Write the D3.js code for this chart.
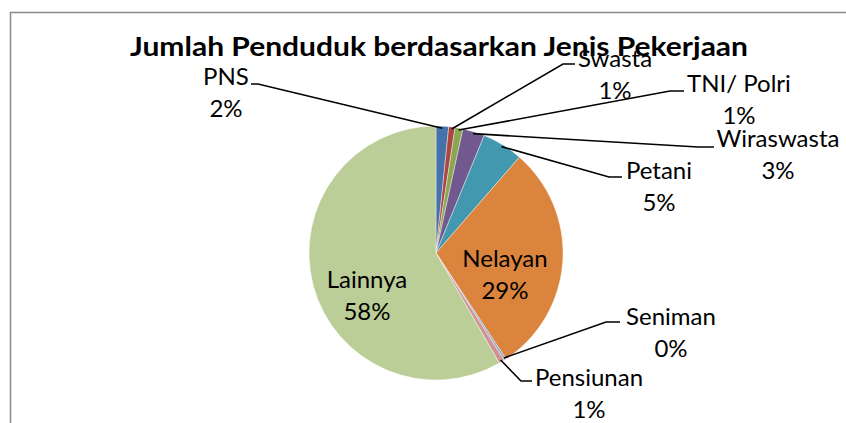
<!DOCTYPE html>
<html>
<head>
<meta charset="utf-8">
<script src="https://cdn.jsdelivr.net/npm/d3@7"></script>
<style>
  body { margin: 0; background: #fff; }
  text { font-family: Lato, "Open Sans", sans-serif; }
</style>
</head>
<body>
<div id="chart"></div>
<script>
// data
var categories = ["PNS", "Swasta", "TNI/ Polri", "Wiraswasta", "Petani", "Nelayan", "Seniman", "Pensiunan", "Lainnya"];
var shares = [1.6, 0.8, 1.0, 2.8, 5.2, 29.3, 0.3, 0.7, 58.3];
var sliceColors = ["#4572a8", "#aa4643", "#8aa650", "#71588f", "#4198af", "#db843d", "#93a9cf", "#d19392", "#bbce97"];

// label layout: text centre x, first baseline y, elbow point, end of leader
var labelPos = {
    "PNS":        { x: 226, y: 85,  elbow: [258, 84],  end: [251, 84] },
    "Swasta":     { x: 615, y: 67,  elbow: [563, 64],  end: [575, 64] },
    "TNI/ Polri": { x: 739, y: 92,  elbow: [670, 91],  end: [684, 91] },
    "Wiraswasta": { x: 778, y: 147, elbow: [698, 147], end: [714, 147] },
    "Petani":     { x: 659, y: 179, elbow: [609, 177], end: [622, 177] },
    "Nelayan":    { x: 505, y: 267 },
    "Seniman":    { x: 671, y: 325, elbow: [606, 322], end: [620, 322] },
    "Pensiunan":  { x: 589, y: 386, elbow: [521, 381], end: [532, 381] },
    "Lainnya":    { x: 367, y: 288 }
};

var width = 846, height = 423;
var cx = 436, cy = 253, radius = 127;

var svg = d3.select("#chart").append("svg")
    .attr("width", width)
    .attr("height", height);

// chart area border
svg.append("rect")
    .attr("x", 10.5)
    .attr("y", 12.5)
    .attr("width", 900)
    .attr("height", 500)
    .attr("fill", "none")
    .attr("stroke", "#8a8a8a")
    .attr("stroke-width", 1.5);

var pie = d3.pie().sort(null).value(function(d) { return d; });
var arcs = pie(shares);

var arc = d3.arc().innerRadius(0).outerRadius(radius);
var edge = d3.arc().innerRadius(radius - 2).outerRadius(radius - 2);

var g = svg.append("g").attr("transform", "translate(" + cx + "," + cy + ")");

g.selectAll("path.slice")
    .data(arcs)
    .enter().append("path")
    .attr("class", "slice")
    .attr("d", arc)
    .attr("fill", function(d, i) { return sliceColors[i]; })
    .attr("stroke", "#ffffff")
    .attr("stroke-width", 0.4);

// leader lines
var lines = svg.append("g");
arcs.forEach(function(d, i) {
    var p = labelPos[categories[i]];
    if (!p.elbow) return;
    var c = edge.centroid(d);
    lines.append("polyline")
        .attr("points", [[cx + c[0], cy + c[1]], p.elbow, p.end].map(function(q) { return q.join(","); }).join(" "))
        .attr("fill", "none")
        .attr("stroke", "#000")
        .attr("stroke-width", 1.6);
});

// labels
var labels = svg.append("g")
    .attr("font-size", 24)
    .attr("fill", "#000")
    .attr("text-anchor", "middle");

arcs.forEach(function(d, i) {
    var p = labelPos[categories[i]];
    var t = labels.append("text").attr("x", p.x).attr("y", p.y);
    t.append("tspan").attr("x", p.x).text(categories[i]);
    t.append("tspan").attr("x", p.x).attr("dy", 32).text(Math.round(shares[i]) + "%");
});

// title
svg.append("text")
    .attr("x", 439)
    .attr("y", 56)
    .attr("text-anchor", "middle")
    .attr("font-size", 27)
    .attr("font-weight", "bold")
    .attr("textLength", 618)
    .attr("lengthAdjust", "spacingAndGlyphs")
    .text("Jumlah Penduduk berdasarkan Jenis Pekerjaan");
</script>
</body>
</html>
